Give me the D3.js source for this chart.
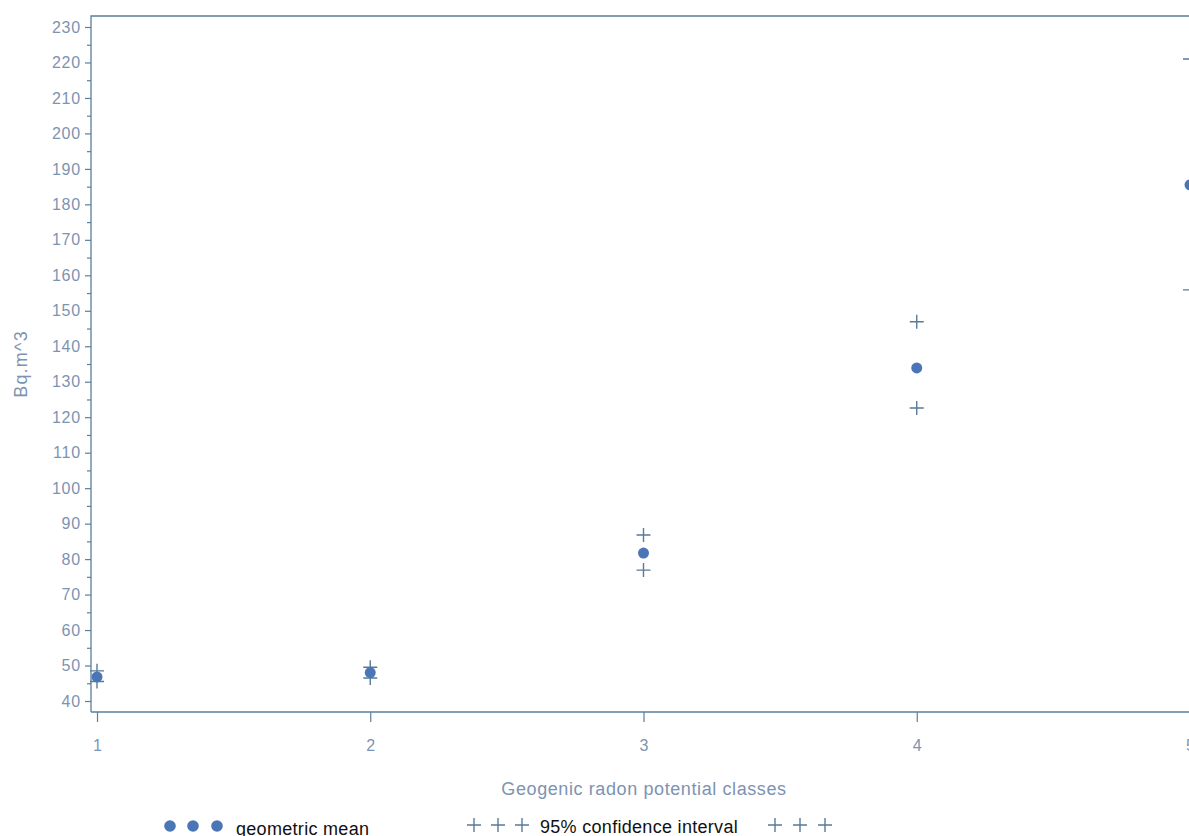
<!DOCTYPE html>
<html><head><meta charset="utf-8">
<script src="https://cdn.jsdelivr.net/npm/d3@7"></script>
<style>
html,body{margin:0;padding:0;background:#fff;overflow:hidden;}
svg{display:block;font-family:"Liberation Sans",Arial,sans-serif;}
</style></head>
<body><svg id="c" width="1189" height="836"></svg>
<script>
const classes = [1, 2, 3, 4, 5];
const geoMean = [46.8, 48.0, 81.7, 133.9, 185.5];
const ciLower = [45.5, 46.5, 76.9, 122.6, 155.9];
const ciUpper = [48.5, 49.5, 86.8, 146.9, 221.0];
const yTicks = d3.range(40, 231, 10);
const yTitle = "Bq.m^3";
const xTitle = "Geogenic radon potential classes";
const legendMean = "geometric mean";
const legendCI = "95% confidence interval";

(function () {
const svg = d3.select("#c");
const axisCol = "#5a7f9c", textCol = "#7d93b2", markCol = "#4a76b8", plusCol = "#5a7a98";
const FONT = "Liberation Sans, Arial, sans-serif";

const x = d3.scaleLinear().domain([1, 5]).range([97, 1190]);
const y = d3.scaleLinear().domain([40, 230]).range([701, 27]);
const pL = 91, pT = 16, pB = 712, pR = 1200;

// frame
svg.append("path").attr("d", `M${pL},${pB}V${pT}H${pR}`).attr("fill","none").attr("stroke",axisCol).attr("stroke-width",1.3);
svg.append("path").attr("d", `M${pL},${pB}H${pR}`).attr("fill","none").attr("stroke",axisCol).attr("stroke-width",1.3);

// y axis
const ya = svg.append("g").attr("transform", `translate(${pL},0)`)
  .call(d3.axisLeft(y).tickValues(yTicks).tickSize(6).tickPadding(4).tickFormat(d3.format("d")));
ya.select(".domain").remove();
ya.selectAll("line").attr("stroke", axisCol).attr("stroke-width",1.2);
ya.selectAll("text").attr("fill", textCol).attr("font-size", 16).attr("font-family", FONT)
  .attr("letter-spacing", 0.8);
const yb = svg.append("g").attr("transform", `translate(${pL},0)`)
  .call(d3.axisLeft(y).tickValues(d3.range(45, 231, 10)).tickSize(4).tickFormat(""));
yb.select(".domain").remove();
yb.selectAll("line").attr("stroke", axisCol).attr("stroke-width",1.2);

// x axis
const xa = svg.append("g").attr("transform", `translate(0,${pB})`)
  .call(d3.axisBottom(x).tickValues(classes).tickSize(10).tickPadding(18).tickFormat(d3.format("d")));
xa.select(".domain").remove();
xa.selectAll("line").attr("stroke", axisCol).attr("stroke-width",1.2);
xa.selectAll("text").attr("fill", textCol).attr("font-size", 16).attr("font-family", FONT);

// titles
svg.append("text").attr("transform","translate(27,364) rotate(-90)").attr("text-anchor","middle")
  .attr("fill",textCol).attr("font-size",18).attr("letter-spacing",1.2).attr("font-family",FONT).text(yTitle);
svg.append("text").attr("x",644).attr("y",795).attr("text-anchor","middle")
  .attr("fill",textCol).attr("font-size",18).attr("letter-spacing",0.6).attr("font-family",FONT).text(xTitle);

function plus(g, cx, cy, s, col) {
  g.append("path").attr("d", `M${cx-s},${cy}H${cx+s}M${cx},${cy-s}V${cy+s}`)
    .attr("stroke", col).attr("stroke-width", 1.4).attr("fill","none");
}

const pts = svg.append("g");
classes.forEach((c, i) => {
  plus(pts, x(c), y(ciLower[i]), 7, plusCol);
  plus(pts, x(c), y(ciUpper[i]), 7, plusCol);
});
pts.selectAll("circle").data(classes).join("circle")
  .attr("cx", d => x(d)).attr("cy", (d, i) => y(geoMean[i])).attr("r", 5.5).attr("fill", markCol);

// legend
const lg = svg.append("g");
[170, 193, 217].forEach(cx => lg.append("circle").attr("cx", cx).attr("cy", 826).attr("r", 5.8).attr("fill", markCol));
lg.append("text").attr("x", 236).attr("y", 835).attr("fill", "#111").attr("font-size",18).attr("letter-spacing",0.3).attr("font-family",FONT).text(legendMean);
[474, 498, 522, 775, 800, 825].forEach(cx => plus(lg, cx, 825, 7, plusCol));
lg.append("text").attr("x", 540).attr("y", 833).attr("fill", "#111").attr("font-size",18).attr("letter-spacing",0.3).attr("font-family",FONT).text(legendCI);
})();
</script></body></html>
